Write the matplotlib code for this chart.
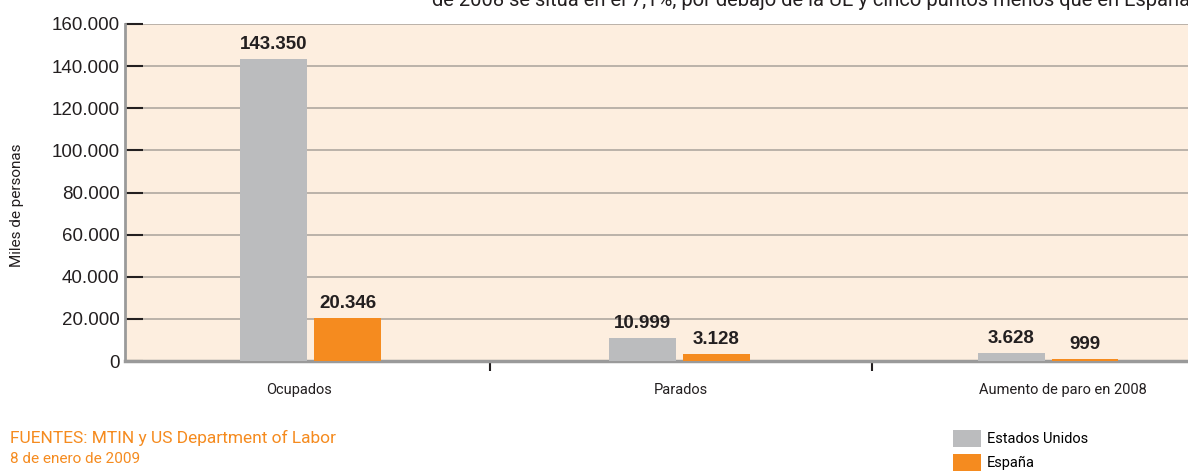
import numpy as np
import matplotlib
matplotlib.use("Agg")
import matplotlib.pyplot as plt
from matplotlib.patches import Patch

plt.rcParams['font.family'] = ['Liberation Sans', 'DejaVu Sans']
narrow = ['Roboto', 'DejaVu Sans']

categories = ["Ocupados", "Parados", "Aumento de paro en 2008"]
estados_unidos = [143350, 10999, 3628]
espana = [20346, 3128, 999]
yticks = [0, 20000, 40000, 60000, 80000, 100000, 120000, 140000, 160000]

gris = "#BBBCBE"
naranja = "#F58B1F"
texto = "#231F20"


def miles(v):
    return "{:,}".format(v).replace(",", ".")


fig = plt.figure(figsize=(11.88, 4.74), dpi=100)
ax = fig.add_axes([125 / 1188, 1 - 361 / 474, 1 - 125 / 1188, 337 / 474])
ax.set_facecolor("#FDEEDF")

x = np.arange(len(categories))
# the bar groups sit a little tighter than the category slots
xb = 0.031 + x * 0.965
w = 0.175
off = 0.0965
b1 = ax.bar(xb - off, estados_unidos, w, color=gris, zorder=3)
b2 = ax.bar(xb + off, espana, w, color=naranja, zorder=3)

for bars, vals in ((b1, estados_unidos), (b2, espana)):
    for r, v in zip(bars, vals):
        ax.text(r.get_x() + r.get_width() / 2, v + 3000, miles(v),
                ha="center", va="bottom", fontsize=13.5, fontweight="bold",
                color=texto, zorder=5)

ax.set_ylim(0, 160000)
ax.set_xlim(-0.455, 2.327)
ax.set_yticks(yticks)
ax.set_yticklabels([miles(v) for v in yticks], fontsize=13.5, color=texto)
ax.yaxis.grid(True, color="#B5ADA5", linewidth=1.3, zorder=0)
ax.tick_params(axis="y", direction="in", length=13, width=1.5, color=texto, pad=4)

ax.set_xticks(x)
ax.set_xticklabels(categories, fontsize=10.5, color=texto, family=narrow)
ax.tick_params(axis="x", which="major", length=0, pad=16)
ax.set_xticks([0.5, 1.5], minor=True)
ax.tick_params(axis="x", which="minor", direction="out", length=7, width=1.5, color=texto)

for s in ("top", "right"):
    ax.spines[s].set_visible(False)
ax.spines["left"].set_color("#9A9A9A")
ax.spines["left"].set_linewidth(2)
ax.spines["bottom"].set_color("#9A9A9A")
ax.spines["bottom"].set_linewidth(2.5)
ax.spines["bottom"].set_zorder(2)

fig.text(17 / 1188, 1 - 205 / 474, "Miles de personas", rotation=90,
         ha="center", va="center", fontsize=11, color=texto, family=narrow)

fig.text(432 / 1188, 1 - 6 / 474,
         "de 2008 se sitúa en el 7,1%, por debajo de la UE y cinco puntos menos que en España",
         ha="left", va="baseline", fontsize=14.5, color=texto, family=narrow)

fig.text(10 / 1188, 1 - 438 / 474, "FUENTES: MTIN y US Department of Labor",
         ha="left", va="center", fontsize=12.5, color=naranja, family=narrow)
fig.text(10 / 1188, 1 - 459 / 474, "8 de enero de 2009",
         ha="left", va="center", fontsize=11, color=naranja, family=narrow)

handles = [Patch(facecolor=gris), Patch(facecolor=naranja)]
fig.legend(handles, ["Estados Unidos", "España"], loc="upper left",
           bbox_to_anchor=(953 / 1188, 1 - 430 / 474), frameon=False,
           handlelength=1.9, handleheight=1.4, handletextpad=0.4,
           labelspacing=0.5, prop={"family": narrow, "size": 10.5}, borderaxespad=0,
           borderpad=0)

fig.savefig("out.png", dpi=100)
